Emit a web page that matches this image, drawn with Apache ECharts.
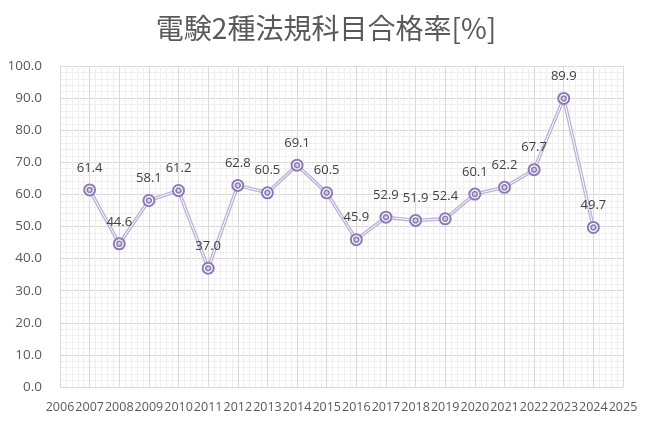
<!DOCTYPE html>
<html>
<head>
<meta charset="utf-8">
<script src="https://cdn.jsdelivr.net/npm/echarts@6/dist/echarts.min.js"></script>
<style>html,body{margin:0;padding:0;background:#fff;}#c{width:652px;height:423px;}</style>
</head>
<body>
<div id="c"></div>
<script>
const years = [2007, 2008, 2009, 2010, 2011, 2012, 2013, 2014, 2015, 2016, 2017, 2018, 2019, 2020, 2021, 2022, 2023, 2024];
const rates = [61.4, 44.6, 58.1, 61.2, 37.0, 62.8, 60.5, 69.1, 60.5, 45.9, 52.9, 51.9, 52.4, 60.1, 62.2, 67.7, 89.9, 49.7];
const titleText = '電験2種法規科目合格率[%]';

const pts = years.map((y, i) => [y, rates[i]]);
const chart = echarts.init(document.getElementById('c'));
const ff = '"Noto Sans CJK JP", "Noto Sans", sans-serif';
chart.setOption({
  animation: false,
  backgroundColor: '#fff',
  title: {
    text: titleText, left: 'center', top: 9,
    textStyle: { fontSize: 28, fontWeight: 'normal', color: '#595959', fontFamily: ff }
  },
  grid: { left: 60, right: 29, top: 66, bottom: 36 },
  xAxis: {
    type: 'value', min: 2006, max: 2025, interval: 1,
    axisLine: { show: false }, axisTick: { show: false },
    axisLabel: { formatter: v => String(v), color: '#595959', fontSize: 12.5, margin: 14, fontFamily: '"Open Sans", sans-serif' },
    splitLine: { show: true, lineStyle: { color: '#d9d9d9', width: 1 } },
    minorTick: { show: false, splitNumber: 5 },
    minorSplitLine: { show: true, lineStyle: { color: '#efefef', width: 1 } }
  },
  yAxis: {
    type: 'value', min: 0, max: 100, interval: 10,
    axisLine: { show: false }, axisTick: { show: false },
    axisLabel: { formatter: v => v.toFixed(1), color: '#595959', fontSize: 13.5, margin: 18, fontFamily: '"Open Sans", sans-serif' },
    splitLine: { show: true, lineStyle: { color: '#d9d9d9', width: 1 } },
    minorTick: { show: false, splitNumber: 5 },
    minorSplitLine: { show: true, lineStyle: { color: '#efefef', width: 1 } }
  },
  series: [
    { type: 'line', data: pts, showSymbol: false, silent: true, z: 2,
      lineStyle: { color: '#bcb0d6', width: 3.5 } },
    { type: 'line', data: pts, showSymbol: false, silent: true, z: 3,
      lineStyle: { color: '#ffffff', width: 1 } },
    { type: 'line', data: pts, z: 4, symbol: 'circle', symbolSize: 11,
      lineStyle: { opacity: 0 },
      itemStyle: { color: '#ffffff', borderColor: '#8d7bb5', borderWidth: 2 },
      label: { show: true, position: 'top', distance: 9, fontSize: 13, color: '#404040',
        fontFamily: '"Open Sans", sans-serif', formatter: p => p.value[1].toFixed(1) } },
    { type: 'line', data: pts, z: 5, symbol: 'circle', symbolSize: 5,
      lineStyle: { opacity: 0 },
      itemStyle: { color: '#d6cce6', borderColor: '#8d7bb5', borderWidth: 1.5 } }
  ]
});
</script>
</body>
</html>
